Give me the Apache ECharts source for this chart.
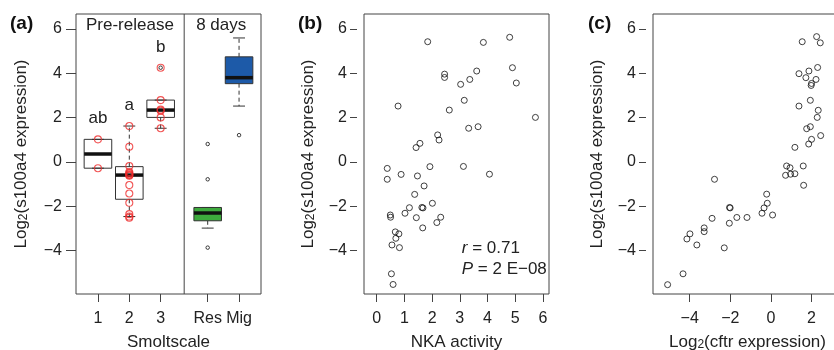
<!DOCTYPE html>
<html>
<head>
<meta charset="utf-8">
<script src="https://cdn.jsdelivr.net/npm/echarts@6/dist/echarts.min.js"></script>
<style>
  html, body { margin: 0; padding: 0; background: #fff; }
  #chart { width: 834px; height: 350px; }
</style>
</head>
<body>
<div id="chart"></div>
<script>
// ---- panel (a): smoltscale boxplots ----
const groupPos = [1, 2, 3, 4.5, 5.5];
const groupLabels = ['1', '2', '3', 'Res', 'Mig'];
// [lower whisker, lower hinge, median, upper hinge, upper whisker]
const boxStats = [
  [-0.28, -0.28, 0.36, 1.02, 1.02],
  [-2.46, -1.68, -0.59, -0.21, 1.62],
  [1.52, 2.01, 2.34, 2.79, 2.79],
  [-2.98, -2.65, -2.30, -2.05, -2.05],
  [2.52, 3.53, 3.80, 4.74, 5.59]
];
const boxFill = ['none', 'none', 'none', '#3daa3d', '#1d5aa8'];
const smolt1 = [1.02, -0.28];
const smolt2 = [1.62, 0.69, -0.18, -0.45, -0.51, -0.55, -0.59, -0.62, -1.04, -1.42, -1.84, -2.35, -2.46, -2.51];
const smolt3 = [4.25, 2.79, 2.36, 2.31, 2.01, 1.52];
const outlierX = [3, 4.5, 4.5, 4.5, 5.5];
const outlierY = [4.25, 0.81, -0.78, -3.86, 1.21];
const letters = ['ab', 'a', 'b'];
const letterY = [1.98, 2.57, 5.19];
const headers = ['Pre-release', '8 days'];
const headerX = [2.02, 4.93];
const dividerX = 3.75;

// ---- panel (b): NKA activity ----
const nkaX = [1.84, 3.85, 4.80, 4.90, 5.04, 2.45, 2.45, 3.61, 3.36, 3.03, 3.16, 2.62, 0.77, 5.73, 3.32, 3.66,
  2.20, 2.25, 1.56, 1.42, 0.38, 0.38, 0.88, 1.47, 1.92, 3.13, 4.07, 1.71, 1.37, 2.01, 1.18, 1.63, 1.67,
  1.02, 0.49, 0.50, 1.43, 2.31, 2.17, 1.66, 0.67, 0.80, 0.69, 0.55, 0.82, 0.53, 0.59];
const nkaY = [5.42, 5.39, 5.62, 4.25, 3.56, 3.96, 3.81, 4.10, 3.72, 3.50, 2.78, 2.34, 2.52, 2.01, 1.52, 1.59,
  1.22, 0.99, 0.84, 0.65, -0.29, -0.78, -0.56, -0.63, -0.21, -0.20, -0.55, -1.08, -1.46, -1.86, -2.06, -2.05, -2.07,
  -2.31, -2.39, -2.49, -2.51, -2.49, -2.73, -2.97, -3.15, -3.24, -3.44, -3.74, -3.86, -5.04, -5.52];
const statLines = ['{i|r} = 0.71', '{i|P} = 2 E\u221208'];
const statX = 3.07;
const statY = [-3.89, -4.83];

// ---- panel (c): cftr expression ----
const cftrX = [1.54, 2.25, 2.43, 2.30, 1.87, 1.38, 1.72, 2.22, 2.00, 1.98, 1.94, 1.38, 2.33, 2.28, 1.76, 1.94,
  2.45, 2.00, 1.86, 1.18, 0.77, 0.94, 0.72, 0.97, 1.18, 1.59, 1.61, -2.78, -0.21, -0.18, -0.34, -0.44, 0.08,
  -2.04, -2.01, -1.68, -1.18, -2.05, -2.90, -3.29, -3.29, -3.99, -4.14, -3.65, -2.30, -4.33, -5.09];
const cftrY = [5.42, 5.65, 5.37, 4.26, 4.10, 3.98, 3.80, 3.72, 3.54, 3.45, 2.78, 2.52, 2.33, 2.01, 1.50, 1.59,
  1.19, 1.02, 0.81, 0.66, -0.18, -0.26, -0.60, -0.55, -0.53, -0.18, -1.05, -0.78, -1.45, -1.86, -2.07, -2.31, -2.39,
  -2.05, -2.07, -2.50, -2.50, -2.76, -2.54, -2.97, -3.14, -3.24, -3.47, -3.74, -3.87, -5.04, -5.53];

const yTicks = [-4, -2, 0, 2, 4, 6];
const nkaTicks = [0, 1, 2, 3, 4, 5, 6];
const cftrTicks = [-4, -2, 0, 2];

const font = 'Liberation Sans, Arial, Helvetica, sans-serif';
const ink = '#222';
const frame = '#444';
const minus = v => (v < 0 ? '\u2212' + Math.abs(v) : String(v));

const chart = echarts.init(document.getElementById('chart'));

const nameRich = {
  s: { fontSize: 12, lineHeight: 12, verticalAlign: 'bottom', color: ink, fontFamily: font, padding: [6, 0, 0, 0] }
};

function yAxisFor(idx, offset, gap, margin, tickLen) {
  return {
    gridIndex: idx,
    type: 'value',
    min: -5.95,
    max: 6.67,
    offset: offset,
    axisLine: { show: false, onZero: false },
    splitLine: { show: false },
    axisTick: { show: true, customValues: yTicks, length: tickLen, lineStyle: { color: frame, width: 1 } },
    axisLabel: { customValues: yTicks, formatter: minus, margin: margin, fontSize: 16, color: ink, fontFamily: font },
    name: 'Log{s|2}(s100a4 expression)',
    nameLocation: 'middle',
    nameGap: gap,
    nameRotate: 90,
    nameTextStyle: { fontSize: 17, color: ink, fontFamily: font, rich: nameRich }
  };
}

function xAxisFor(idx, min, max, ticks, fmt, name) {
  return {
    gridIndex: idx,
    type: 'value',
    min: min,
    max: max,
    axisLine: { show: false, onZero: false },
    splitLine: { show: false },
    axisTick: { show: true, customValues: ticks, length: 8, lineStyle: { color: frame, width: 1 } },
    axisLabel: { customValues: ticks, formatter: fmt, margin: 17, fontSize: 16, color: ink, fontFamily: font },
    name: name,
    nameLocation: 'middle',
    nameGap: 40,
    nameTextStyle: { fontSize: 17, color: ink, fontFamily: font, rich: nameRich }
  };
}

function renderBox(params, api) {
  const i = params.dataIndex;
  const x = api.value(0);
  const lo = api.value(1), q1 = api.value(2), med = api.value(3), q3 = api.value(4), hi = api.value(5);
  const hw = 0.44, cw = 0.19;
  const p = (xx, yy) => api.coord([xx, yy]);
  const seg = (a, b, style) => ({
    type: 'line',
    shape: { x1: a[0], y1: a[1], x2: b[0], y2: b[1] },
    style: style
  });
  const thin = { stroke: '#333', lineWidth: 1 };
  const dash = { stroke: '#333', lineWidth: 1, lineDash: [4, 3] };
  const tl = p(x - hw, q3), br = p(x + hw, q1);
  return {
    type: 'group',
    children: [
      seg(p(x, q3), p(x, hi), dash),
      seg(p(x, q1), p(x, lo), dash),
      seg(p(x - cw, hi), p(x + cw, hi), thin),
      seg(p(x - cw, lo), p(x + cw, lo), thin),
      {
        type: 'rect',
        shape: { x: tl[0], y: tl[1], width: br[0] - tl[0], height: br[1] - tl[1] },
        style: { fill: boxFill[i], stroke: '#333', lineWidth: 1 }
      },
      seg(p(x - hw, med), p(x + hw, med), { stroke: '#111', lineWidth: 3.5 })
    ]
  };
}

const redPts = []
  .concat(smolt1.map(v => [1, v]))
  .concat(smolt2.map(v => [2, v]))
  .concat(smolt3.map(v => [3, v]));

const textStyle = (text, align) => ({
  text: text, fill: ink, fontSize: 17, fontFamily: font,
  align: align, verticalAlign: 'middle'
});

const gridBase = { top: 14, height: 280, show: true, borderColor: frame, borderWidth: 1, backgroundColor: 'transparent', outerBoundsMode: 'none', containLabel: false };

const option = {
  animation: false,
  backgroundColor: '#fff',
  textStyle: { fontFamily: font },
  grid: [
    Object.assign({ left: 76, width: 185 }, gridBase),
    Object.assign({ left: 364, width: 185 }, gridBase),
    Object.assign({ left: 653, width: 189 }, gridBase)
  ],
  xAxis: [
    xAxisFor(0, 0.3, 6.2, groupPos, v => groupLabels[groupPos.indexOf(v)] || '', 'Smoltscale'),
    xAxisFor(1, -0.46, 6.22, nkaTicks, minus, 'NKA activity'),
    xAxisFor(2, -5.81, 3.5, cftrTicks, minus, 'Log{s|2}(cftr expression)')
  ],
  yAxis: [
    yAxisFor(0, 0, 46, 14, 10),
    yAxisFor(1, 7, 40, 10, 7),
    yAxisFor(2, 7, 40, 10, 7)
  ],
  graphic: [
    { type: 'text', left: 10, top: 14, style: { text: '(a)', fontSize: 19, fontWeight: 'bold', fill: '#111', fontFamily: font } },
    { type: 'text', left: 298, top: 14, style: { text: '(b)', fontSize: 19, fontWeight: 'bold', fill: '#111', fontFamily: font } },
    { type: 'text', left: 588, top: 14, style: { text: '(c)', fontSize: 19, fontWeight: 'bold', fill: '#111', fontFamily: font } }
  ],
  series: [
    {
      type: 'custom',
      xAxisIndex: 0, yAxisIndex: 0,
      silent: true,
      renderItem: function (params, api) {
        const top = params.coordSys.y, h = params.coordSys.height;
        const px = api.coord([api.value(0), 0])[0];
        return { type: 'line', shape: { x1: px, y1: top, x2: px, y2: top + h }, style: { stroke: frame, lineWidth: 1 } };
      },
      data: [[dividerX]]
    },
    {
      type: 'custom',
      xAxisIndex: 0, yAxisIndex: 0,
      silent: true,
      renderItem: renderBox,
      data: boxStats.map((s, i) => [groupPos[i]].concat(s)),
      z: 2
    },
    {
      type: 'scatter',
      xAxisIndex: 0, yAxisIndex: 0,
      silent: true,
      symbol: 'circle',
      symbolSize: 7,
      itemStyle: { color: 'rgba(0,0,0,0)', borderColor: '#ee2b2b', borderWidth: 1.1 },
      data: redPts,
      z: 3
    },
    {
      type: 'scatter',
      xAxisIndex: 0, yAxisIndex: 0,
      silent: true,
      symbol: 'circle',
      symbolSize: 3.5,
      itemStyle: { color: 'rgba(0,0,0,0)', borderColor: '#111', borderWidth: 1 },
      data: outlierX.map((x, i) => [x, outlierY[i]]),
      z: 4
    },
    {
      type: 'custom',
      xAxisIndex: 0, yAxisIndex: 0,
      silent: true,
      renderItem: function (params, api) {
        const i = params.dataIndex;
        const pt = api.coord([api.value(0), api.value(1)]);
        return { type: 'text', x: pt[0], y: pt[1], style: textStyle(letters[i], 'center') };
      },
      data: letters.map((t, i) => [i + 1, letterY[i]])
    },
    {
      type: 'custom',
      xAxisIndex: 0, yAxisIndex: 0,
      silent: true,
      renderItem: function (params, api) {
        const i = params.dataIndex;
        const pt = api.coord([api.value(0), api.value(1)]);
        return { type: 'text', x: pt[0], y: pt[1], style: textStyle(headers[i], 'center') };
      },
      data: headers.map((t, i) => [headerX[i], 6.17])
    },
    {
      type: 'scatter',
      xAxisIndex: 1, yAxisIndex: 1,
      silent: true,
      symbol: 'circle',
      symbolSize: 6,
      itemStyle: { color: 'rgba(0,0,0,0)', borderColor: '#111', borderWidth: 1 },
      data: nkaX.map((x, i) => [x, nkaY[i]])
    },
    {
      type: 'custom',
      xAxisIndex: 1, yAxisIndex: 1,
      silent: true,
      renderItem: function (params, api) {
        const i = params.dataIndex;
        const pt = api.coord([api.value(0), api.value(1)]);
        return {
          type: 'text', x: pt[0], y: pt[1],
          style: {
            text: statLines[i], fill: ink, fontSize: 17, fontFamily: font,
            align: 'left', verticalAlign: 'middle',
            rich: { i: { fontStyle: 'italic', fontSize: 17, fontFamily: font, fill: ink } }
          }
        };
      },
      data: statY.map(y => [statX, y])
    },
    {
      type: 'scatter',
      xAxisIndex: 2, yAxisIndex: 2,
      silent: true,
      symbol: 'circle',
      symbolSize: 6,
      itemStyle: { color: 'rgba(0,0,0,0)', borderColor: '#111', borderWidth: 1 },
      data: cftrX.map((x, i) => [x, cftrY[i]])
    }
  ]
};

chart.setOption(option);
</script>
</body>
</html>
